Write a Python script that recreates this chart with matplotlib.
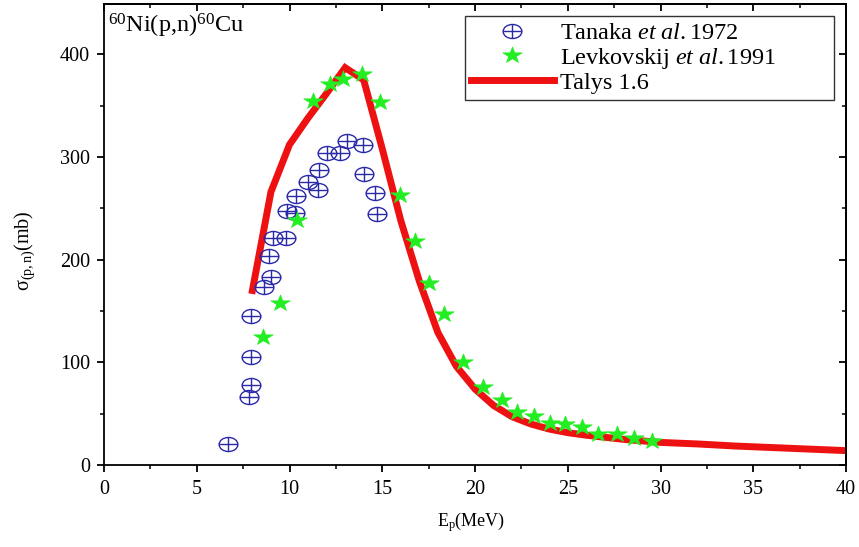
import numpy as np
import matplotlib
matplotlib.use("Agg")
import matplotlib.pyplot as plt
from matplotlib.path import Path
from matplotlib.ticker import MultipleLocator

# ---------------- data ----------------
tanaka_e = [6.7, 7.83, 7.9, 7.9, 7.92, 8.64, 9.0, 8.9, 9.1, 9.81, 9.88, 10.3, 10.35,
            11.0, 11.54, 11.59, 12.02, 12.72, 13.12, 13.94, 14.02, 14.61, 14.7]
tanaka_s = [20, 66, 78, 105, 145, 173, 183, 204, 221, 221, 247, 245, 262,
            276, 268, 287, 304, 304, 316, 312, 283, 265, 244]

levk_e = [8.59, 9.49, 10.38, 11.28, 12.18, 12.9, 13.93, 14.88, 15.96, 16.77, 17.54,
          18.33, 19.37, 20.41, 21.44, 22.28, 23.18, 24.04, 24.85, 25.75, 26.65,
          27.63, 28.57, 29.52]
levk_s = [125, 158, 239, 355, 371, 376, 381, 354, 263, 218, 177,
          147, 100, 76, 63, 52, 48, 41, 40, 37, 30,
          30, 26, 23]

talys_e = [8, 9, 10, 11, 12, 13, 14, 15, 16, 17, 18, 19, 20, 21, 22, 23, 24, 25,
           26, 27, 28, 29, 30, 32, 34, 36, 38, 40]
talys_s = [170, 266, 312, 338, 362, 387, 375, 308, 238, 179, 129, 96, 74, 58, 47, 40,
           35, 31.5, 29, 27, 25, 23.5, 22, 20.5, 18.5, 17, 15.5, 14]

labels = ["Tanaka $\\it{et\\ al.}$1972", "Levkovskij $\\it{et\\ al.}$1991", "Talys 1.6"]

# ---------------- style ----------------
plt.rcParams['font.family'] = ['Liberation Serif', 'DejaVu Serif']
plt.rcParams['mathtext.fontset'] = 'custom'
plt.rcParams['mathtext.rm'] = 'Liberation Serif'
plt.rcParams['mathtext.it'] = 'Liberation Serif:italic'
plt.rcParams['mathtext.bf'] = 'Liberation Serif:bold'

# custom markers: ellipse with cross, horizontally stretched star
c = Path.unit_circle()
ell = Path(c.vertices * np.array([1.0, 0.75]), c.codes)
cross = Path([[-1, 0], [1, 0], [0, -0.75], [0, 0.75]],
             [Path.MOVETO, Path.LINETO, Path.MOVETO, Path.LINETO])
oplus = Path.make_compound_path(ell, cross)

st = Path.unit_regular_star(5, 0.381966)
star = Path(st.vertices * np.array([1.2, 1.0]), st.codes)

blue = '#2a2aa8'
green = '#22ee22'
red = '#ee1111'

fig = plt.figure(figsize=(8.59, 5.47), dpi=100)
ax = fig.add_axes([104 / 859, (547 - 465) / 547, (846 - 104) / 859, (465 - 4) / 547])

ax.plot(tanaka_e, tanaka_s, linestyle='none', marker=oplus, markersize=13.5,
        markerfacecolor='none', markeredgecolor=blue, markeredgewidth=1.0,
        label=labels[0], zorder=3)
ax.plot(levk_e, levk_s, linestyle='none', marker=star, markersize=14,
        markerfacecolor=green, markeredgecolor=green, markeredgewidth=0.5,
        label=labels[1], zorder=4)
ax.plot(talys_e, talys_s, color=red, linewidth=5, solid_joinstyle='miter',
        label=labels[2], zorder=2)

ax.set_xlim(0, 40)
ax.set_ylim(0, 449)
ax.xaxis.set_major_locator(MultipleLocator(5))
ax.xaxis.set_minor_locator(MultipleLocator(2.5))
ax.yaxis.set_major_locator(MultipleLocator(100))
ax.yaxis.set_minor_locator(MultipleLocator(50))

for s in ax.spines.values():
    s.set_linewidth(1.3)

ax.tick_params(which='major', direction='out', length=5, width=1.3, labelsize=14.5,
               top=False, right=False)
ax.tick_params(which='minor', direction='out', length=3, width=1.1, top=False, right=False)
ax.tick_params(axis='x', which='major', pad=6)
ax.tick_params(axis='y', which='major', pad=5)

# mirrored inward ticks on top and right
sx = ax.secondary_xaxis('top')
sx.xaxis.set_major_locator(MultipleLocator(5))
sx.xaxis.set_minor_locator(MultipleLocator(2.5))
sx.tick_params(which='major', direction='in', length=5, width=1.3, labeltop=False)
sx.tick_params(which='minor', direction='in', length=3, width=1.1)
sx.spines['top'].set_linewidth(1.3)
sy = ax.secondary_yaxis('right')
sy.yaxis.set_major_locator(MultipleLocator(100))
sy.yaxis.set_minor_locator(MultipleLocator(50))
sy.tick_params(which='major', direction='in', length=5, width=1.3, labelright=False)
sy.tick_params(which='minor', direction='in', length=3, width=1.1)
sy.spines['right'].set_linewidth(1.3)

fig.text(471 / 859, 1 - 522 / 547, 'E$_\\mathregular{p}$(MeV)', ha='center', va='center',
         fontsize=13)
fig.text(25 / 859, 1 - 251 / 547, '\u03c3$_\\mathregular{(p,n)}$(mb)', ha='center',
         va='center', rotation=90, fontsize=14.5)

ax.text(0.005, 0.952, '$^{60}$Ni(p,n)$^{60}$Cu', transform=ax.transAxes,
        ha='left', va='center', fontsize=17.5)

leg = ax.legend(loc='upper left', bbox_to_anchor=(0.4865, 0.7835, 0.4975, 0.19),
                mode='expand', borderaxespad=0,
                fontsize=17.5, frameon=True, fancybox=False, handlelength=3.4,
                handletextpad=0.25, labelspacing=0.05, borderpad=0.25)
leg.get_frame().set_edgecolor('black')
leg.get_frame().set_linewidth(1.0)

fig.savefig('out.png', dpi=100)
